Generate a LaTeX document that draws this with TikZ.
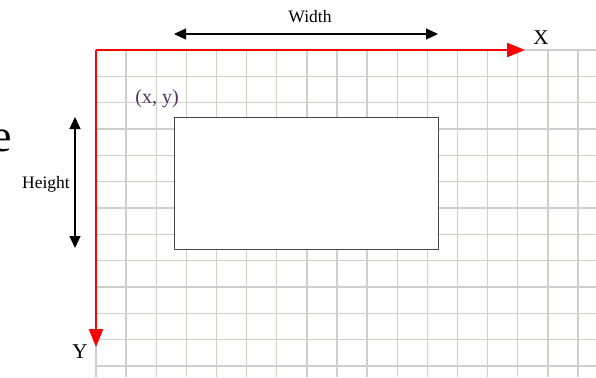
\documentclass[tikz,border=0pt]{standalone}
\usepackage{fontspec}
\setmainfont{Liberation Serif}
\usetikzlibrary{arrows.meta}
\definecolor{gridgray}{RGB}{208,208,202}
\definecolor{boxgray}{RGB}{70,70,70}
\definecolor{labelpurple}{RGB}{80,50,95}
\tikzset{
  gridline/.style={gridgray, line width=1.4pt},
  axis/.style={red, line width=2.5pt, -{Triangle[length=18pt, width=14pt]}},
  measure/.style={black, line width=1.2pt, {Triangle[length=12pt, width=11pt]}-{Triangle[length=12pt, width=11pt]}},
  box/.style={draw=boxgray, fill=white, line width=1.3pt, inner sep=0pt, anchor=north west},
}
\begin{document}
\begin{tikzpicture}[x=1pt, y=-1pt, line join=round, font=\fontsize{17.5}{19}\selectfont]
	\useasboundingbox (0,0) rectangle (596,377);
	\clip (0,0) rectangle (596,377);
	\path (96,50) coordinate (O)
	(525,50) coordinate (Xend)
	(96,347) coordinate (Yend)
	(174,34) coordinate (Wl)
	(438,34) coordinate (Wr)
	(75,117) coordinate (Ht)
	(75,248) coordinate (Hb);
	% grid
	\foreach \i in {0,...,16}
		\draw[gridline] (96+30.125*\i,50) -- (96+30.125*\i,377);
	\foreach \j in {0,...,12}
		\draw[gridline] (96,50+26.33*\j) -- (596,50+26.33*\j);
	\node[box, minimum width=264pt, minimum height=132pt] (rect) at (174,117) {};
	\draw[axis] (O) -- (Xend);
	\draw[axis] (O) -- (Yend);
	\node (xlab) at (541,38) {\fontsize{21}{23}\selectfont X};
	\node (ylab) at (80,352) {\fontsize{21}{23}\selectfont Y};
	\node[text=labelpurple] (xy) at (157,99) {\fontsize{20}{22}\selectfont (x, y)};
	\draw[measure] (Wl) -- (Wr);
	\node (wlab) at (310,17) {Width};
	\draw[measure] (Ht) -- (Hb);
	\node (hlab) at (46,184) {Height};
	\node[anchor=base east, inner sep=0pt] (frag) at (12,151) {\fontsize{46}{46}\selectfont e};
\end{tikzpicture}
\end{document}
